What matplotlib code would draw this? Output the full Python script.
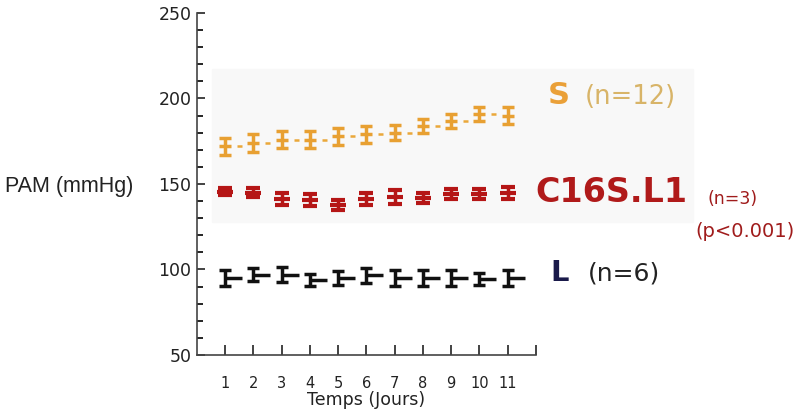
import matplotlib.pyplot as plt
from matplotlib.patches import Rectangle
from matplotlib.path import Path
import numpy as np

# Données
jours = np.arange(1, 12)
s_moy = [172, 174, 176, 176, 178, 179, 180, 184, 187, 191, 190]
s_err = [5, 5, 5, 5, 5, 5, 4.5, 4, 4, 4, 5]
c16_moy = [145.5, 145, 141, 140.5, 137.5, 141.5, 142.5, 142, 144, 144, 145]
c16_err = [2, 2.5, 3.5, 3.5, 3, 3.5, 4, 3, 3, 3, 3.5]
l_moy = [95, 97, 97, 94, 95, 96.5, 95, 95, 95, 94.5, 95]
l_err = [4.5, 4, 4.5, 3.5, 4, 4.5, 4.5, 4.5, 4.5, 3.5, 4.5]

# petits traits décalés à droite des points
trait_s = Path([(0.7, 0), (1, 0)])
trait_l = Path([(0, 0), (1, 0)])

fig = plt.figure(figsize=(8.02, 4.15), dpi=100)
ax = fig.add_axes([0.2456, 0.1446, 0.4227, 0.8241])
ax.set_facecolor('none')

# fond gris clair
fig.patches.append(Rectangle((212 / 802, 1 - 222 / 415), (693 - 212) / 802, (222 - 69) / 415,
                             transform=fig.transFigure, color='#f8f8f8', zorder=-5))

# S
ax.plot(jours[:-1], s_moy[:-1], ls='none', marker=trait_s, markersize=24, mew=1.8,
        mec='#eaa83a', zorder=2)
ax.errorbar(jours, s_moy, yerr=s_err, fmt='_', color='#e8a032', ecolor='#e8a032',
            elinewidth=2.5, capsize=4, capthick=2.5, markersize=8, mew=2.5, zorder=3)
# C16S.L1
ax.errorbar(jours, c16_moy, yerr=c16_err, fmt='_', color='#b51616', ecolor='#b51616',
            elinewidth=2.5, capsize=5, capthick=2.5, markersize=12, mew=3, zorder=3)
# L
ax.plot(jours, l_moy, ls='none', marker=trait_l, markersize=24, mew=2.5,
        mec='#111111', zorder=2)
ax.errorbar(jours, l_moy, yerr=l_err, fmt='none', ecolor='#111111',
            elinewidth=2.5, capsize=4, capthick=2.5, zorder=3)

ax.set_xlim(0, 12)
ax.set_ylim(50, 250)
ax.set_yticks([50, 100, 150, 200, 250])
ax.set_yticks(np.arange(60, 250, 10), minor=True)
ax.set_xticks(np.arange(1, 13))
ax.set_xticklabels([str(j) for j in jours] + [''])
ax.tick_params(axis='y', direction='in', length=6, width=1.2, labelsize=12.5, colors='#222222', pad=4)
ax.tick_params(axis='y', which='minor', direction='in', length=4, width=1.2)
ax.tick_params(axis='x', direction='in', length=7, width=1.2, labelsize=10.5, colors='#222222', pad=15)
for side in ['top', 'right']:
    ax.spines[side].set_visible(False)
for side in ['left', 'bottom']:
    ax.spines[side].set_linewidth(1.2)
    ax.spines[side].set_color('#444444')

ax.set_xlabel('Temps (Jours)', fontsize=12.5, color='#222222', labelpad=0)
fig.text(5 / 802, 1 - 186 / 415, 'PAM (mmHg)', fontsize=15.5, family='Liberation Sans',
         ha='left', va='center', color='#222222')

# étiquettes des groupes
fig.text(0.683, 0.771, 'S', fontsize=22, weight='bold', color='#eaa038', ha='left', va='center')
fig.text(0.729, 0.766, '(n=12)', fontsize=18.5, color='#d8b468', ha='left', va='center')
fig.text(0.667, 0.535, 'C16S.L1', fontsize=24, weight='bold', color='#b01a1a', ha='left', va='center')
fig.text(0.882, 0.521, '(n=3)', fontsize=12.5, color='#a01c1c', ha='left', va='center')
fig.text(0.867, 0.441, '(p<0.001)', fontsize=14, color='#a01c1c', ha='left', va='center')
fig.text(0.686, 0.342, 'L', fontsize=21, weight='bold', color='#1a1a4a', ha='left', va='center')
fig.text(0.733, 0.342, '(n=6)', fontsize=18, color='#222222', ha='left', va='center')

fig.savefig('out.png', dpi=100)
